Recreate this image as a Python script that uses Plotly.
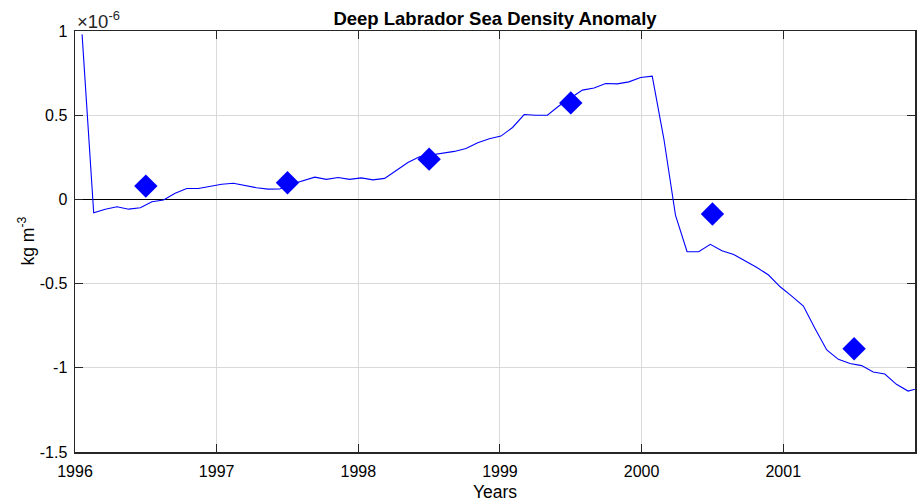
import plotly.graph_objects as go

# Monthly-ish sample times (decimal years)
times = [1996.050, 1996.132, 1996.214, 1996.296, 1996.379, 1996.461, 1996.543, 1996.625,
         1996.707, 1996.789, 1996.871, 1996.954, 1997.036, 1997.118, 1997.200, 1997.282,
         1997.364, 1997.446, 1997.528, 1997.611, 1997.693, 1997.775, 1997.857, 1997.939,
         1998.021, 1998.103, 1998.186, 1998.268, 1998.350, 1998.432, 1998.514, 1998.596,
         1998.678, 1998.760, 1998.843, 1998.925, 1999.007, 1999.089, 1999.171, 1999.253,
         1999.335, 1999.418, 1999.500, 1999.582, 1999.664, 1999.746, 1999.828, 1999.910,
         1999.993, 2000.075, 2000.157, 2000.239, 2000.321, 2000.403, 2000.485, 2000.567,
         2000.650, 2000.732, 2000.814, 2000.896, 2000.978, 2001.060, 2001.142, 2001.224,
         2001.307, 2001.389, 2001.471, 2001.553, 2001.635, 2001.717, 2001.799, 2001.881,
         2001.964]

# Density anomaly, units of 1e-6 kg m^-3
anomaly = [0.98, -0.080, -0.058, -0.044, -0.058, -0.050, -0.014, -0.004,
           0.036, 0.065, 0.065, 0.079, 0.090, 0.096, 0.083, 0.069,
           0.061, 0.062, 0.090, 0.110, 0.132, 0.119, 0.130, 0.119,
           0.128, 0.116, 0.125, 0.172, 0.219, 0.253, 0.265, 0.277,
           0.285, 0.302, 0.336, 0.360, 0.376, 0.427, 0.504, 0.500,
           0.500, 0.556, 0.600, 0.649, 0.662, 0.688, 0.686, 0.698,
           0.724, 0.732, 0.360, -0.093, -0.311, -0.311, -0.267, -0.305,
           -0.327, -0.366, -0.404, -0.449, -0.519, -0.574, -0.633, -0.766,
           -0.894, -0.950, -0.974, -0.987, -1.025, -1.037, -1.098, -1.138,
           -1.120]

# Annual means (diamonds)
annual_years = [1996.5, 1997.5, 1998.5, 1999.5, 2000.5, 2001.5]
annual_values = [0.079, 0.099, 0.239, 0.573, -0.087, -0.887]

x_ticks = [1996, 1997, 1998, 1999, 2000, 2001]
x_ticklabels = ["1996", "1997", "1998", "1999", "2000", "2001"]
y_ticks = [1, 0.5, 0, -0.5, -1, -1.5]
y_ticklabels = ["1", "0.5", "0", "-0.5", "-1", "-1.5"]

FONT = "Liberation Sans, Arial, Helvetica, sans-serif"
AX = "#262626"

fig = go.Figure()
fig.add_trace(go.Scatter(x=times, y=anomaly, mode="lines",
                         line=dict(color="#0000ff", width=1.1),
                         showlegend=False, hoverinfo="skip"))
fig.add_trace(go.Scatter(x=annual_years, y=annual_values, mode="markers",
                         marker=dict(symbol="diamond", size=18, color="#0000ff",
                                     line=dict(width=0)),
                         showlegend=False, hoverinfo="skip"))

fig.update_layout(
    width=917, height=502,
    margin=dict(l=75, r=0, t=31, b=50),
    paper_bgcolor="white", plot_bgcolor="white",
    font=dict(family=FONT, size=16, color="black"),
    hovermode=False,
    title=dict(text="<b>Deep Labrador Sea Density Anomaly</b>",
               xref="paper", x=0.5, xanchor="center",
               y=1 - 19 / 502, yanchor="middle",
               font=dict(family=FONT, size=18.5, color="black")),
)

fig.update_xaxes(
    range=[1996, 2001.93], tickvals=x_ticks, ticktext=x_ticklabels,
    showgrid=True, gridcolor="#d9d9d9", gridwidth=1,
    showline=True, linecolor=AX, linewidth=1.5, mirror="ticks",
    ticks="inside", ticklen=8, tickcolor=AX, tickwidth=1,
    zeroline=False, ticklabelstandoff=4,
    tickfont=dict(family=FONT, size=16, color="black"),
)
fig.update_yaxes(
    range=[-1.5, 1], tickvals=y_ticks, ticktext=y_ticklabels,
    showgrid=True, gridcolor="#d9d9d9", gridwidth=1,
    showline=True, linecolor=AX, linewidth=1.5, mirror="ticks",
    ticks="inside", ticklen=8, tickcolor=AX, tickwidth=1,
    zeroline=True, zerolinecolor="black", zerolinewidth=1.2,
    ticklabelstandoff=3,
    tickfont=dict(family=FONT, size=16, color="black"),
)

fig.add_annotation(text="Years", xref="paper", yref="paper", x=0.5, y=0,
                   xanchor="center", yanchor="middle", yshift=-40, showarrow=False,
                   font=dict(family=FONT, size=17.5, color="black"))
fig.add_annotation(text="kg m<sup>-3</sup>", xref="paper", yref="paper", x=0, y=0.5,
                   xanchor="right", yanchor="middle", xshift=-36, textangle=-90,
                   showarrow=False, font=dict(family=FONT, size=17.5, color="black"))
fig.add_annotation(text="\u00d710<sup>-6</sup>", xref="paper", yref="paper", x=0, y=1,
                   xanchor="left", yanchor="bottom", xshift=0, yshift=-3,
                   showarrow=False, font=dict(family=FONT, size=18.5, color="#262626"))

fig.write_html(
    "out.html",
    config={"displayModeBar": False, "staticPlot": True},
    post_script="document.body.style.margin='0';document.body.style.overflow='hidden';",
)
